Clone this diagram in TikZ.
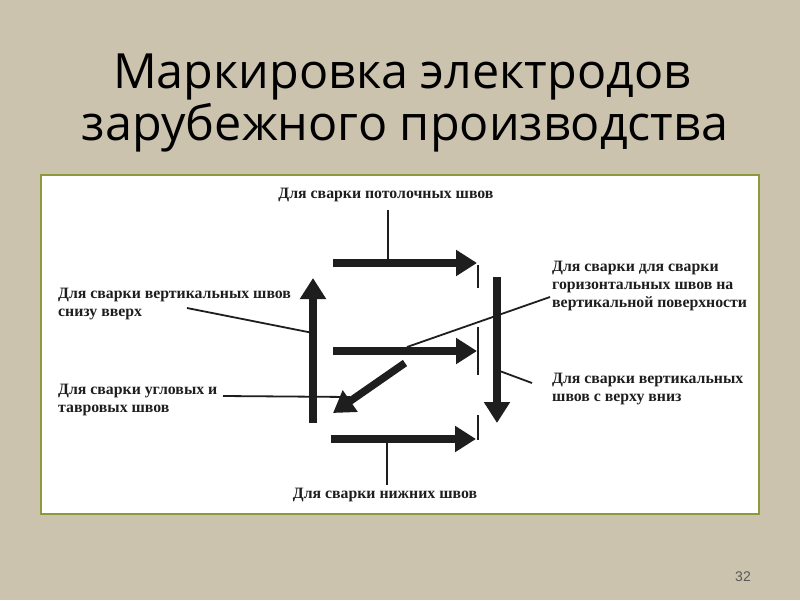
\documentclass[tikz,border=0pt]{standalone}
\usepackage{fontspec}
\setmainfont{Liberation Serif}
\newfontfamily\titlefont{Open Sans}
\newfontfamily\numfont{Liberation Sans}
\usetikzlibrary{arrows.meta}
\definecolor{bgc}{HTML}{CCC3AF}
\definecolor{framec}{HTML}{8C9A3C}
\definecolor{ink}{HTML}{1E1E1E}
\tikzset{
  fatarrow/.style={line width=7.5pt, draw=ink, -{Triangle[length=21pt,width=25pt]}},
  thinline/.style={line width=1.8pt, draw=ink},
  lbl/.style={font=\bfseries\fontsize{15.8}{18}\selectfont, text=ink, inner sep=0pt, align=left},
  ttl/.style={font=\titlefont\fontsize{48.5}{54}\selectfont, text=black, inner sep=0pt}
}
\begin{document}
\begin{tikzpicture}[x=1pt,y=-1pt]
\useasboundingbox (0,0) rectangle (800,600);
\fill[bgc] (0,0) rectangle (800,600);
% title
\node[ttl, anchor=base] (t1) at (402,88) {Маркировка электродов};
\node[ttl, anchor=base] (t2) at (405,140) {зарубежного производства};
% white panel
\draw[fill=white, draw=framec, line width=1.5pt] (41,175) rectangle (759,514);
% labels
\node[lbl, anchor=center] (top) at (386,195) {Для сварки потолочных швов};
\node[lbl, anchor=center] (bot) at (385,495) {Для сварки нижних швов};
\node[lbl, anchor=north west] (lv) at (58,288) {Для сварки вертикальных швов\\снизу вверх};
\node[lbl, anchor=north west] (lu) at (58,384) {Для сварки угловых и\\тавровых швов};
\node[lbl, anchor=north west] (rh) at (552,261) {Для сварки для сварки\\горизонтальных швов на\\вертикальной поверхности};
\node[lbl, anchor=north west] (rv) at (552,373) {Для сварки вертикальных\\швов с верху вниз};
% arrow coordinates
\coordinate (a1s) at (333,263); \coordinate (a1e) at (477,263);
\coordinate (a2s) at (333,351); \coordinate (a2e) at (477,351);
\coordinate (a3s) at (331,439); \coordinate (a3e) at (476,439);
\coordinate (ups) at (313,423); \coordinate (upe) at (313,278);
\coordinate (dns) at (497,277); \coordinate (dne) at (497,423);
\coordinate (dgs) at (405,363); \coordinate (dge) at (333,413);
% arrows
\draw[fatarrow] (a1s) -- (a1e);
\draw[fatarrow] (a2s) -- (a2e);
\draw[fatarrow] (a3s) -- (a3e);
\draw[fatarrow] (ups) -- (upe);
\draw[fatarrow] (dns) -- (dne);
\draw[fatarrow] (dgs) -- (dge);
% ticks
\coordinate (k1a) at (478,265); \coordinate (k1b) at (478,288);
\coordinate (k2a) at (478,327); \coordinate (k2b) at (478,375);
\coordinate (k3a) at (478,415); \coordinate (k3b) at (478,440);
\draw[thinline] (k1a) -- (k1b);
\draw[thinline] (k2a) -- (k2b);
\draw[thinline] (k3a) -- (k3b);
% leader lines
\coordinate (topend) at (388,263);
\coordinate (botend) at (387,439);
\draw[thinline] (388,210) -- (topend);
\draw[thinline] (387,485) -- (botend);
\coordinate (lvs) at (187,308); \coordinate (lve) at (313,333);
\draw[thinline] (lvs) -- (lve);
\coordinate (lus) at (223,396); \coordinate (lue) at (350,397);
\draw[thinline] (lus) -- (lue);
\coordinate (rhs) at (407,347); \coordinate (rhe) at (550,297);
\draw[thinline] (rhs) -- (rhe);
\coordinate (rvs) at (497,370); \coordinate (rve) at (532,383);
\draw[thinline] (rvs) -- (rve);
% page number
\node[font=\numfont\fontsize{14}{16}\selectfont, text=black!65, anchor=center] (pn) at (743,577) {32};
\end{tikzpicture}
\end{document}
